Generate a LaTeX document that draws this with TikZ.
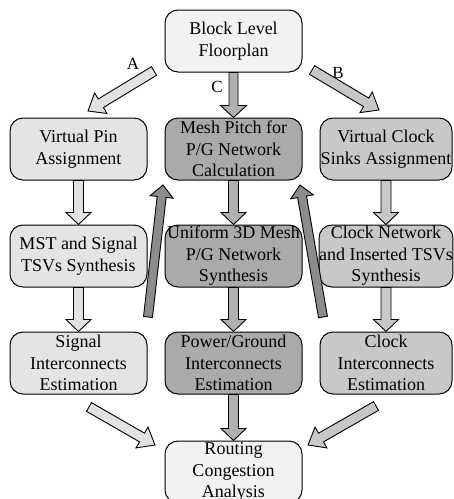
\documentclass[tikz,border=0pt]{standalone}
\usepackage{fontspec}
\setmainfont{Liberation Serif}
\usetikzlibrary{calc}
\definecolor{cTop}{HTML}{F2F2F2}
\definecolor{cLeft}{HTML}{E4E4E4}
\definecolor{cMid}{HTML}{AAAAAA}
\definecolor{cRight}{HTML}{C8C8C8}
\definecolor{aLight}{HTML}{E2E2E2}
\definecolor{aMid}{HTML}{B0B0B0}
\definecolor{aRight}{HTML}{C8C8C8}
\definecolor{aDark}{HTML}{8C8C8C}
\newcommand{\blockarr}[6]{%
  \coordinate (ba-h) at ($(#2)!#6!(#1)$);
  \filldraw[fill=#3,draw=black,line width=0.9pt,line join=miter]
    ($(#1)!#4!90:(#2)$) -- ($(ba-h)!#4!90:(#2)$) -- ($(ba-h)!#5!90:(#2)$) -- (#2)
    -- ($(ba-h)!#5!-90:(#2)$) -- ($(ba-h)!#4!-90:(#2)$) -- ($(#1)!#4!-90:(#2)$) -- cycle;}
\begin{document}
\begin{tikzpicture}[x=1pt,y=-1pt,
  box/.style={draw=black,line width=1pt,rounded corners=13pt,minimum height=62pt,
    align=center,inner sep=0pt,font=\fontsize{18}{21.5}\selectfont},
  lab/.style={font=\fontsize{17}{17}\selectfont,inner sep=0pt}]
\useasboundingbox (0,0) rectangle (454,499);
% nodes
\node[box,fill=cTop,minimum width=137pt] (top) at (233.5,41) {Block Level\\Floorplan};
\node[box,fill=cLeft,minimum width=137pt] (l1) at (78.5,149) {Virtual Pin\\Assignment};
\node[box,fill=cMid,minimum width=137pt] (m1) at (233.5,149) {Mesh Pitch for\\P/G Network\\Calculation};
\node[box,fill=cRight,minimum width=132pt] (r1) at (386,149) {Virtual Clock\\Sinks Assignment};
\node[box,fill=cLeft,minimum width=137pt] (l2) at (78.5,256) {MST and Signal\\TSVs Synthesis};
\node[box,fill=cMid,minimum width=137pt] (m2) at (233.5,256) {Uniform 3D Mesh\\P/G Network\\Synthesis};
\node[box,fill=cRight,minimum width=132pt] (r2) at (386,256) {Clock Network\\and Inserted TSVs\\Synthesis};
\node[box,fill=cLeft,minimum width=137pt] (l3) at (78.5,363) {Signal\\Interconnects\\Estimation};
\node[box,fill=cMid,minimum width=137pt] (m3) at (233.5,363) {Power/Ground\\Interconnects\\Estimation};
\node[box,fill=cRight,minimum width=132pt] (r3) at (386,363) {Clock\\Interconnects\\Estimation};
\node[box,fill=cTop,minimum width=137pt] (bot) at (233.5,472) {Routing\\Congestion\\Analysis};
% free ends of diagonal arrows
\coordinate (aS) at (154,71);
\coordinate (aE) at (88,111);
\coordinate (bS) at (312,70);
\coordinate (bE) at (379,110);
\coordinate (dS) at (89,407);
\coordinate (dE) at (155,445);
\coordinate (eS) at (376,406);
\coordinate (eE) at (308,445);
\coordinate (u1S) at (148,317);
\coordinate (u1E) at (163,185);
\coordinate (u2S) at (323,317);
\coordinate (u2E) at (300,185);
% arrows
\blockarr{aS}{aE}{aLight}{5pt}{12pt}{15pt}
\blockarr{top.south}{m1.north}{aMid}{4.5pt}{13pt}{12pt}
\blockarr{bS}{bE}{aRight}{5pt}{12pt}{15pt}
\blockarr{l1.south}{l2.north}{aLight}{5pt}{12.5pt}{12pt}
\blockarr{m1.south}{m2.north}{aMid}{5pt}{12.5pt}{12pt}
\blockarr{r1.south}{r2.north}{aRight}{5pt}{12.5pt}{12pt}
\blockarr{l2.south}{l3.north}{aLight}{5pt}{12.5pt}{12pt}
\blockarr{m2.south}{m3.north}{aMid}{5pt}{12.5pt}{12pt}
\blockarr{r2.south}{r3.north}{aRight}{5pt}{12.5pt}{12pt}
\blockarr{dS}{dE}{aLight}{5pt}{12pt}{15pt}
\blockarr{m3.south}{bot.north}{aMid}{5pt}{12.5pt}{12pt}
\blockarr{eS}{eE}{aRight}{5pt}{12pt}{15pt}
\blockarr{u1S}{u1E}{aDark}{4.5pt}{11.5pt}{12pt}
\blockarr{u2S}{u2E}{aDark}{4.5pt}{11.5pt}{12pt}
% labels
\node[lab] (labA) at (133,64) {A};
\node[lab] (labC) at (217,87) {C};
\node[lab] (labB) at (338,73) {B};
\end{tikzpicture}
\end{document}
